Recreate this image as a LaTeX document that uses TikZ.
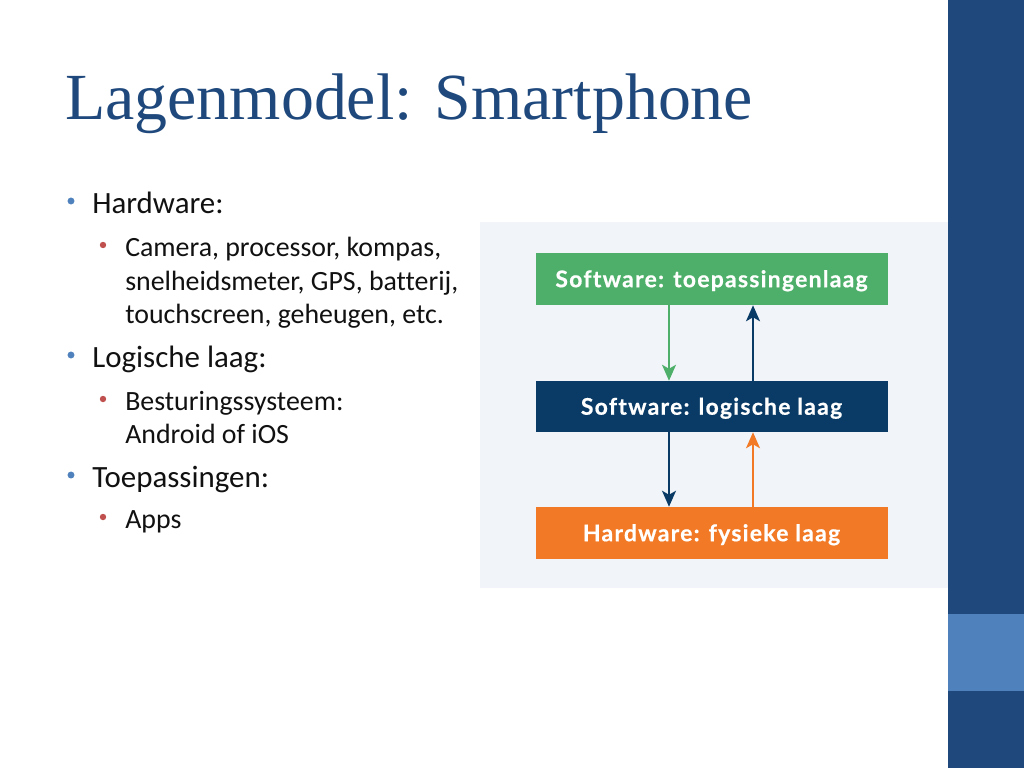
\documentclass[tikz,border=0pt]{standalone}
\usepackage{fontspec}
\setmainfont{Carlito}[Ligatures={NoCommon}]
\newfontfamily\titlefont{Liberation Serif}
\newfontfamily\boxfont{Lato}[LetterSpace=5.5,Ligatures={NoCommon},FakeBold=0.6]
\usetikzlibrary{arrows.meta}

\definecolor{themedark}{HTML}{1F497D}
\definecolor{themelight}{HTML}{4F81BD}
\definecolor{bulletred}{HTML}{C0504D}
\definecolor{panelbg}{HTML}{F1F5F9}
\definecolor{appgreen}{HTML}{4DAF69}
\definecolor{lognavy}{HTML}{0A3B66}
\definecolor{hworange}{HTML}{F27A26}
\definecolor{bodytext}{HTML}{111111}

% soft vignette of the slide background
\pgfdeclareradialshading{slidebg}{\pgfpoint{0bp}{0bp}}{%
  color(0bp)=(white); color(38bp)=(white); color(72bp)=(black!20)}

\begin{document}
\begin{tikzpicture}[x=0.75pt,y=-0.75pt,
  lvlone/.style={anchor=base west,inner sep=0pt,text=bodytext,
    font=\fontsize{23.2}{27}\selectfont},
  lvltwo/.style={anchor=base west,inner sep=0pt,text=bodytext,
    font=\fontsize{20.9}{25}\selectfont},
  dotone/.style={circle,fill=themelight,inner sep=0pt,minimum size=5.2pt},
  dottwo/.style={circle,fill=bulletred,inner sep=0pt,minimum size=4.8pt},
  layer/.style={rectangle,inner sep=0pt,minimum width=264pt,
    text=white,text height=12.3pt,text depth=0pt,
    font=\boxfont\bfseries\fontsize{17.2}{19}\selectfont},
  flow/.style={line width=1.3pt,-{Stealth[length=12pt,width=10.5pt,inset=3pt]}}]

\useasboundingbox (0,0) rectangle (1024,768);

% slide background and side bar
\shade[shading=slidebg] (0,0) rectangle (948,768);
\fill[themedark] (948,0) rectangle (1024,768);
\fill[themelight] (948,614) rectangle (1024,691);

% title
\node[anchor=base west,inner sep=0pt,text=themedark,
  font=\titlefont\fontsize{49.4}{52}\selectfont] (title) at (65,119)
  {Lagenmodel: Smartphone};

% bullet list
\node[dotone] (d1) at (71,201) {};
\node[lvlone] (h1) at (92,213) {Hardware:};
\node[dottwo] (d2) at (103,245) {};
\node[lvltwo] (h2a) at (125,256) {Camera, processor, kompas,};
\node[lvltwo] (h2b) at (125,290) {snelheidsmeter, GPS, batterij,};
\node[lvltwo] (h2c) at (125,323) {touchscreen, geheugen, etc.};

\node[dotone] (d3) at (71,355) {};
\node[lvlone] (l1) at (92,367) {Logische laag:};
\node[dottwo] (d4) at (103,399) {};
\node[lvltwo] (l2a) at (125,410) {Besturingssysteem:};
\node[lvltwo] (l2b) at (125,443) {Android of iOS};

\node[dotone] (d5) at (71,475) {};
\node[lvlone] (t1) at (92,487) {Toepassingen:};
\node[dottwo] (d6) at (103,517) {};
\node[lvltwo] (t2) at (125,528) {Apps};

% layer diagram panel
\fill[panelbg] (480,222) rectangle (948,588);

\node[layer,fill=appgreen,minimum height=39pt] (app) at (711.5,279)
  {Software: toepassingenlaag};
\node[layer,fill=lognavy,minimum height=38.25pt] (log) at (711.5,406.5)
  {Software: logische laag};
\node[layer,fill=hworange,minimum height=39pt] (hw) at (711.5,533)
  {Hardware: fysieke laag};

\coordinate (down) at (669,0);
\coordinate (up) at (753,0);

\draw[flow,appgreen] (app.south -| down) -- (log.north -| down);
\draw[flow,lognavy] (log.north -| up) -- (app.south -| up);
\draw[flow,lognavy] (log.south -| down) -- (hw.north -| down);
\draw[flow,hworange] (hw.north -| up) -- (log.south -| up);

\end{tikzpicture}
\end{document}
